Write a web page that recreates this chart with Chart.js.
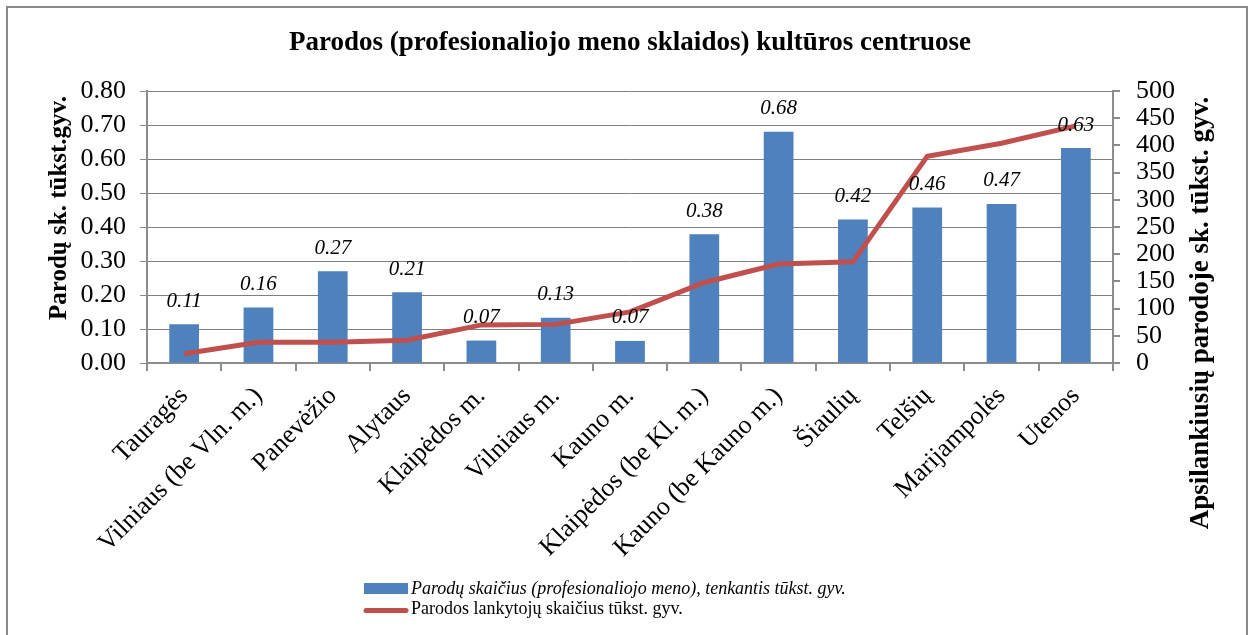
<!DOCTYPE html>
<html>
<head>
<meta charset="utf-8">
<script src="https://cdn.jsdelivr.net/npm/chart.js@4.4.1/dist/chart.umd.min.js"></script>
<style>
html, body { margin: 0; padding: 0; background: #fff; }
</style>
</head>
<body>
<canvas id="chart" width="1253" height="635"></canvas>
<script>
// duomenys
const categories = ['Tauragės', 'Vilniaus (be Vln. m.)', 'Panevėžio', 'Alytaus', 'Klaipėdos m.', 'Vilniaus m.',
    'Kauno m.', 'Klaipėdos (be Kl. m.)', 'Kauno (be Kauno m.)', 'Šiaulių', 'Telšių', 'Marijampolės', 'Utenos'];
const exhibitions = [0.114, 0.163, 0.27, 0.208, 0.066, 0.133, 0.065, 0.379, 0.68, 0.422, 0.457, 0.468, 0.632];
const visitors = [17, 38, 38, 42, 70, 71, 94, 148, 182, 186, 380, 404, 436];
const leftMax = 0.8, leftStep = 0.1;
const rightMax = 500, rightStep = 50;

const titleText = 'Parodos (profesionaliojo meno sklaidos) kultūros centruose';
const leftTitle = 'Parodų sk. tūkst.gyv.';
const rightTitle = 'Apsilankiusių parodoje sk. tūkst. gyv.';
const barLabel = 'Parodų skaičius (profesionaliojo meno), tenkantis tūkst. gyv.';
const lineLabel = 'Parodos lankytojų skaičius tūkst. gyv.';

const serif = '"Liberation Serif", "Times New Roman", serif';
const axisGrey = '#8c8c8c';
const blue = '#4F81BD';
const red = '#C0504D';

// antraštės, reikšmių etiketės ir legenda
const decorPlugin = {
    id: 'decor',
    afterDatasetsDraw(chart) {
        const ctx = chart.ctx;
        const meta = chart.getDatasetMeta(0);
        ctx.save();
        ctx.font = 'italic 21px ' + serif;
        ctx.fillStyle = '#000';
        ctx.textAlign = 'center';
        ctx.textBaseline = 'middle';
        meta.data.forEach((bar, i) => {
            ctx.fillText(exhibitions[i].toFixed(2), bar.x, bar.y - 23);
        });
        ctx.restore();
    },
    afterDraw(chart) {
        const ctx = chart.ctx;
        ctx.save();
        // rėmelis
        ctx.strokeStyle = '#8a8a8a';
        ctx.lineWidth = 2;
        ctx.strokeRect(7, 7, 1240, 660);

        ctx.fillStyle = '#000';
        ctx.textAlign = 'center';
        ctx.textBaseline = 'middle';
        ctx.font = 'bold 27px ' + serif;
        ctx.fillText(titleText, 630, 43);

        // ašių pavadinimai
        ctx.font = 'bold 25px ' + serif;
        ctx.save();
        ctx.translate(60, 208);
        ctx.rotate(-Math.PI / 2);
        ctx.fillText(leftTitle, 0, 0);
        ctx.restore();
        ctx.font = 'bold 27px ' + serif;
        ctx.save();
        ctx.translate(1201, 313);
        ctx.rotate(-Math.PI / 2);
        ctx.fillText(rightTitle, 0, 0);
        ctx.restore();

        // legenda
        ctx.textAlign = 'left';
        ctx.fillStyle = blue;
        ctx.fillRect(364, 583, 44, 11);
        ctx.fillStyle = '#000';
        ctx.font = 'italic 18px ' + serif;
        ctx.fillText(barLabel, 411, 589);
        ctx.strokeStyle = red;
        ctx.lineWidth = 5;
        ctx.lineCap = 'round';
        ctx.beginPath();
        ctx.moveTo(366, 610.5);
        ctx.lineTo(406, 610.5);
        ctx.stroke();
        ctx.font = '18px ' + serif;
        ctx.fillText(lineLabel, 411, 609);
        ctx.restore();
    }
};

const tickFont = { family: serif, size: 26, lineHeight: 1 };

const ctx = document.getElementById('chart');
new Chart(ctx, {
    data: {
        labels: categories,
        datasets: [{
            type: 'bar',
            label: barLabel,
            data: exhibitions,
            backgroundColor: blue,
            borderWidth: 0,
            barPercentage: 0.4,
            categoryPercentage: 1,
            yAxisID: 'y',
            order: 1
        }, {
            type: 'line',
            label: lineLabel,
            data: visitors,
            borderColor: red,
            borderWidth: 5,
            pointRadius: 0,
            tension: 0,
            yAxisID: 'y2',
            order: 0
        }]
    },
    options: {
        responsive: false,
        animation: false,
        layout: { padding: { top: 91, left: 0, right: 0, bottom: 0 } },
        plugins: {
            legend: { display: false },
            tooltip: { enabled: false }
        },
        scales: {
            x: {
                offset: true,
                grid: {
                    offset: true,
                    drawOnChartArea: false,
                    color: axisGrey,
                    tickLength: 8,
                    lineWidth: 2
                },
                border: { color: axisGrey, width: 2 },
                ticks: {
                    font: { family: serif, size: 26 },
                    color: '#000',
                    minRotation: 45,
                    maxRotation: 45,
                    autoSkip: false,
                    padding: 10
                },
                afterFit(scale) { scale.height = 272; }
            },
            y: {
                position: 'left',
                min: 0,
                max: leftMax,
                grid: {
                    color: '#7f7f7f',
                    borderDash: [1, 2],
                    tickBorderDash: [],
                    tickColor: axisGrey,
                    tickLength: 7,
                    lineWidth: 1
                },
                border: { color: axisGrey, width: 2 },
                ticks: {
                    stepSize: leftStep,
                    autoSkip: false,
                    font: tickFont,
                    color: '#000',
                    padding: 14,
                    callback: v => v.toFixed(2)
                },
                afterFit(scale) { scale.width = 147; }
            },
            y2: {
                position: 'right',
                min: 0,
                max: rightMax,
                grid: {
                    drawOnChartArea: false,
                    color: axisGrey,
                    tickLength: 7,
                    lineWidth: 2
                },
                border: { color: axisGrey, width: 2 },
                ticks: {
                    stepSize: rightStep,
                    autoSkip: false,
                    font: tickFont,
                    color: '#000',
                    padding: 16
                },
                afterFit(scale) { scale.width = 140; }
            }
        }
    },
    plugins: [decorPlugin]
});
</script>
</body>
</html>
